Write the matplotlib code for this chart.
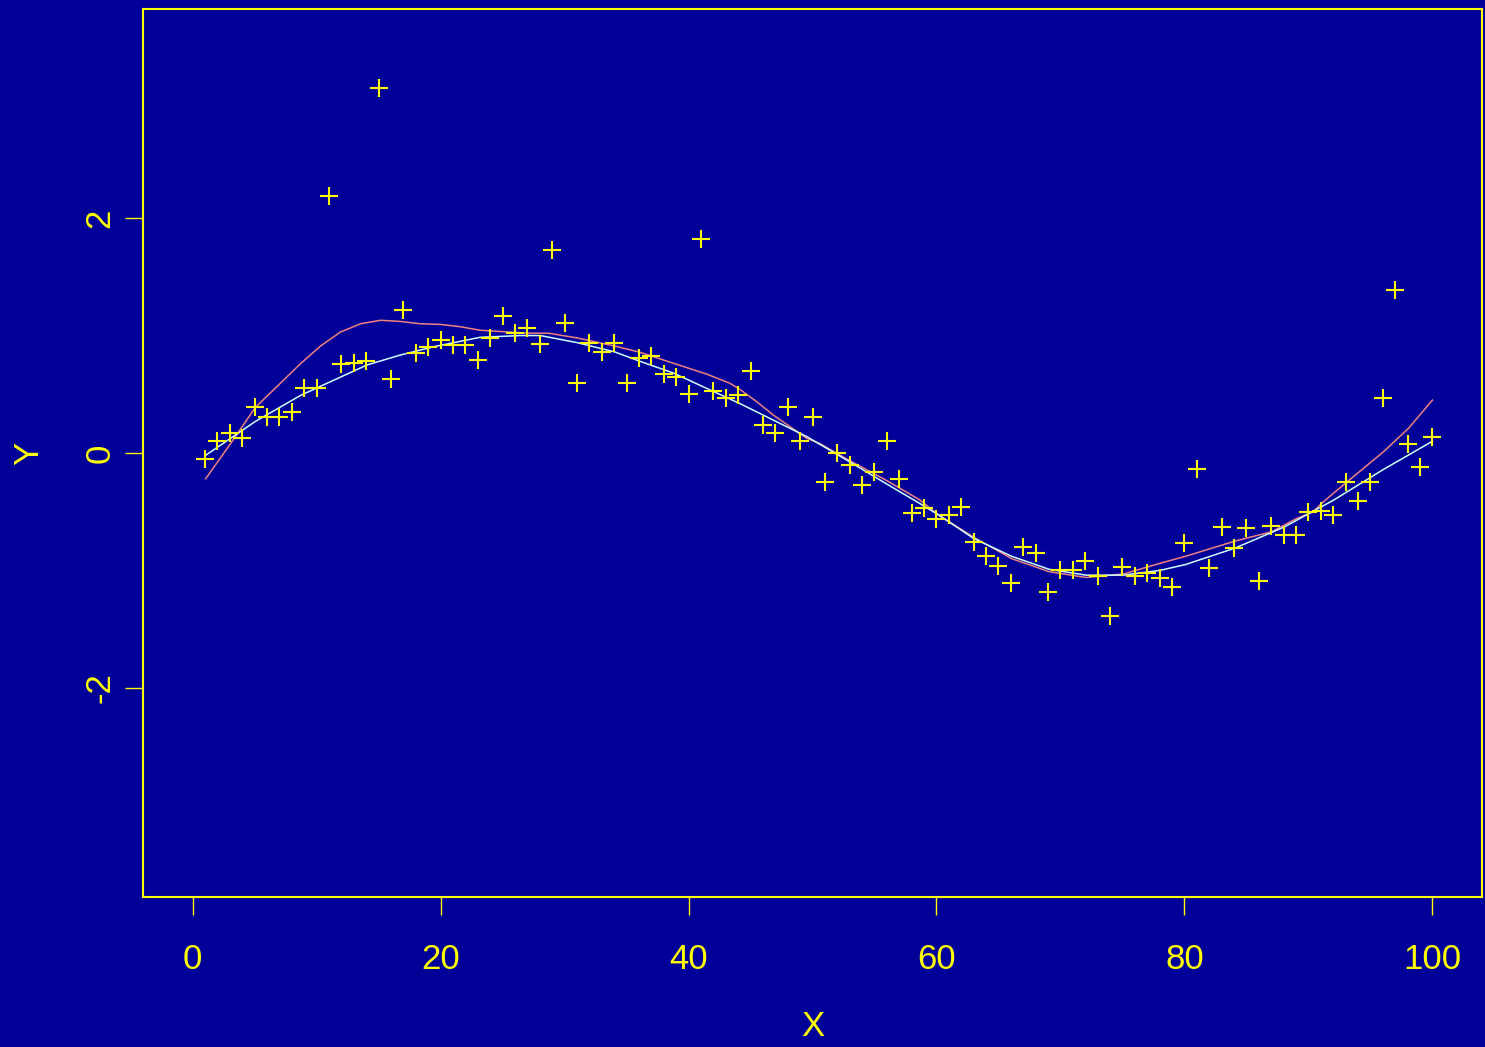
import numpy as np
import matplotlib
matplotlib.use('Agg')
import matplotlib.pyplot as plt

plt.rcParams['font.family'] = ['Liberation Sans', 'DejaVu Sans']

# observed points, x = 1..100
xs = list(range(1, 101))
ys = [-0.05, 0.10, 0.17, 0.13, 0.39, 0.31, 0.31, 0.35, 0.55, 0.55,
      2.19, 0.76, 0.77, 0.78, 3.11, 0.63, 1.22, 0.85, 0.90, 0.96,
      0.92, 0.92, 0.79, 0.98, 1.17, 1.02, 1.06, 0.93, 1.73, 1.11,
      0.60, 0.94, 0.86, 0.94, 0.60, 0.81, 0.83, 0.67, 0.65, 0.50,
      1.82, 0.53, 0.47, 0.49, 0.70, 0.24, 0.17, 0.39, 0.10, 0.31,
      -0.25, 0.00, -0.10, -0.27, -0.16, 0.10, -0.22, -0.51, -0.47, -0.56,
      -0.53, -0.46, -0.76, -0.88, -0.96, -1.11, -0.80, -0.85, -1.18, -1.00,
      -1.00, -0.92, -1.05, -1.39, -0.97, -1.05, -1.02, -1.06, -1.14, -0.77,
      -0.14, -0.98, -0.63, -0.81, -0.64, -1.09, -0.62, -0.70, -0.70, -0.50,
      -0.49, -0.53, -0.25, -0.41, -0.25, 0.47, 1.39, 0.08, -0.12, 0.14]

# light curve (true function)
curve1_x = [1.05, 5.08, 8.70, 11.39, 14.08, 16.76, 19.45, 23.2, 26.43, 28.04,
            31.0, 34.06, 36.1, 38.8, 41.47, 44.16, 46.84, 49.53, 53.08, 56.08,
            58.66, 60.06, 63.04, 66.08, 69.08, 72.06, 75.08, 78.0, 80.07, 84.07,
            88.05, 92.05, 96.05, 100.0]
curve1_y = [-0.02, 0.27, 0.49, 0.62, 0.75, 0.834, 0.905, 0.985, 1.00, 1.00,
            0.94, 0.86, 0.78, 0.68, 0.55, 0.42, 0.28, 0.14, -0.08, -0.27,
            -0.43, -0.52, -0.73, -0.88, -0.99, -1.04, -1.04, -1.00, -0.95, -0.81,
            -0.63, -0.40, -0.14, 0.10]

# pink curve (smoother fit)
curve2_x = [1.05, 3.06, 5.08, 7.04, 8.70, 10.31, 11.93, 13.54, 15.15, 16.76,
            18.37, 19.98, 21.6, 23.2, 25.5, 27.05, 28.7, 31.0, 34.06, 36.1,
            38.8, 41.47, 43.35, 44.16, 45.5, 46.84, 48.19, 49.53, 50.6, 53.08,
            56.08, 58.66, 60.06, 63.04, 66.08, 69.08, 72.06, 75.08, 78.0, 80.07,
            84.07, 87.05, 89.0, 90.4, 91.05, 92.05, 93.07, 96.05, 98.07, 100.0]
curve2_y = [-0.22, 0.08, 0.39, 0.59, 0.76, 0.91, 1.03, 1.10, 1.13, 1.12,
            1.10, 1.095, 1.075, 1.045, 1.03, 1.02, 1.02, 0.98, 0.91, 0.857,
            0.763, 0.672, 0.593, 0.54, 0.437, 0.323, 0.224, 0.125, 0.08, -0.07,
            -0.24, -0.40, -0.52, -0.72, -0.90, -1.01, -1.06, -1.03, -0.94, -0.88,
            -0.75, -0.67, -0.56, -0.50, -0.43, -0.34, -0.25, 0.01, 0.21, 0.45]

xticks = [0, 20, 40, 60, 80, 100]
yticks = [-2, 0, 2]

bg = '#000099'
fg = '#FFFF00'

fig = plt.figure(figsize=(14.85, 10.47), dpi=100, facecolor=bg)
ax = fig.add_axes([143 / 1485, 1 - 897 / 1047, 1339 / 1485, 888 / 1047])
ax.set_facecolor(bg)

ax.plot(xs, ys, linestyle='none', marker='+', markersize=12.5,
        markeredgewidth=1.5, color=fg, zorder=3)
ax.plot(curve2_x, curve2_y, color='#F08080', linewidth=1.1, zorder=2)
ax.plot(curve1_x, curve1_y, color='#CCFFFF', linewidth=1.1, zorder=2)

ax.set_xlim(-4, 104)
ax.set_ylim(-3.78, 3.78)
ax.set_xticks(xticks)
ax.set_yticks(yticks)
ax.set_xticklabels([str(v) for v in xticks])
ax.set_yticklabels([str(v) for v in yticks])

for s in ax.spines.values():
  s.set_color(fg)
  s.set_linewidth(1.5)

ax.tick_params(axis='both', colors=fg, labelcolor=fg, labelsize=25,
               length=13, width=1.0, direction='out')
ax.tick_params(axis='x', pad=20)
ax.tick_params(axis='y', pad=6)
plt.setp(ax.get_yticklabels(), rotation=90, va='center')

ax.set_xlabel('X', color=fg, fontsize=25)
ax.set_ylabel('Y', color=fg, fontsize=25)
ax.xaxis.set_label_coords(0.5, -0.146)
ax.xaxis.label.set_va('center')
ax.yaxis.set_label_coords(-0.0855, 0.5)
ax.yaxis.label.set_va('center')

plt.savefig('out.png', dpi=100, facecolor=bg)
